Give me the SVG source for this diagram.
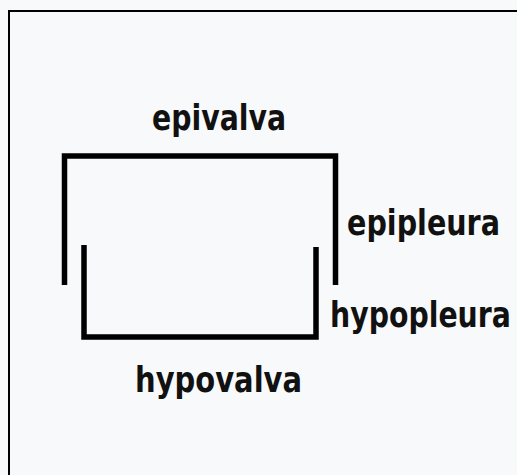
<svg xmlns="http://www.w3.org/2000/svg" width="517" height="475" viewBox="0 0 517 475">
<style>
.bg{fill:#f8f9fa}
.frame{fill:none;stroke:#000;stroke-width:2}
.br{fill:none;stroke:#000;stroke-width:5.5;stroke-linejoin:miter;stroke-linecap:butt}
.lbl{font-family:"DejaVu Sans Condensed","DejaVu Sans",sans-serif;font-weight:bold;font-size:35px;fill:#111}
</style>
<rect class="bg" x="0" y="0" width="517" height="475"/>
<rect class="frame" x="9" y="11" width="600" height="600"/>
<g id="connectors">
<path id="upper" class="br" d="M64.5,285 V156 H335.5 V285"/>
<path id="lower" class="br" d="M84,245 V337 H316 V247"/>
</g>
<g id="epivalva"><text class="lbl" x="152" y="130" textLength="134" lengthAdjust="spacingAndGlyphs">epivalva</text></g>
<g id="epipleura"><text class="lbl" x="347" y="235" textLength="153" lengthAdjust="spacingAndGlyphs">epipleura</text></g>
<g id="hypopleura"><text class="lbl" transform="translate(330,327) scale(0.9,1)" x="0" y="0" textLength="201" lengthAdjust="spacingAndGlyphs">hypopleura</text></g>
<g id="hypovalva"><text class="lbl" x="135" y="392" textLength="167" lengthAdjust="spacingAndGlyphs">hypovalva</text></g>
</svg>
